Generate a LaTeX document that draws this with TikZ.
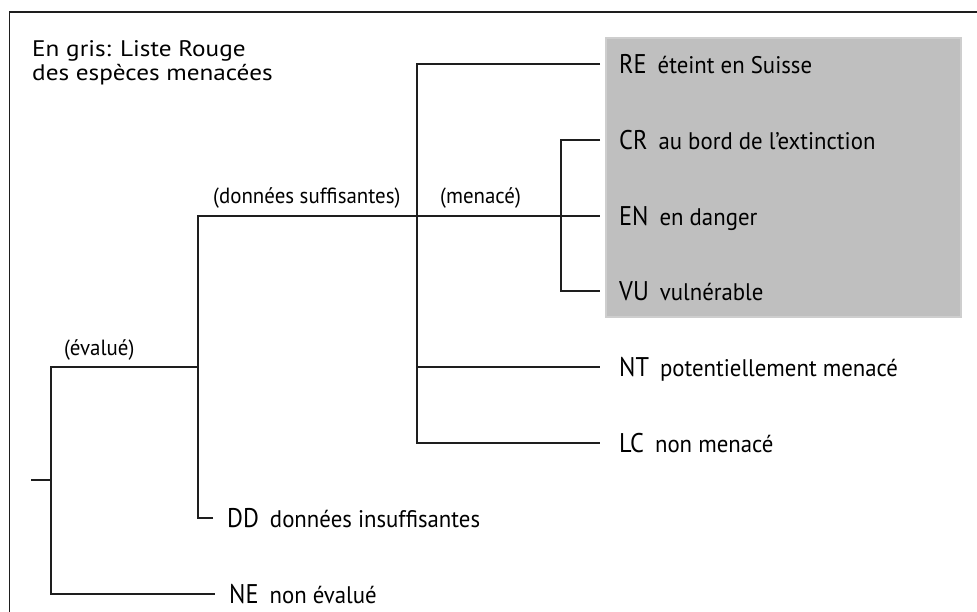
\documentclass[tikz,border=0pt]{standalone}
\usepackage{fontspec}
\setmainfont[FakeStretch=0.95]{PT Sans}
\newfontfamily\codefont[FakeStretch=0.9]{PT Sans}
\newfontfamily\notefont[FakeStretch=1.12]{PT Sans}
\definecolor{boxgray}{RGB}{191,191,191}
\definecolor{boxedge}{RGB}{206,206,206}
\definecolor{linecol}{RGB}{30,30,30}
\newcommand\rlcode[1]{{\codefont\fontsize{27}{27}\selectfont #1}\hspace{11pt}}
\begin{document}
\begin{tikzpicture}[x=1pt,y=-1pt,
  tree/.style={draw=linecol, line width=1.3pt},
  framel/.style={draw=linecol, line width=1.6pt},
  leaf/.style={anchor=west, inner xsep=19pt, inner ysep=0pt, text height=18.5pt, text depth=0pt, font=\fontsize{24}{26}\selectfont},
  leafl/.style={leaf, inner xsep=14pt},
  lbl/.style={anchor=base west, inner sep=0pt, font=\fontsize{22}{23.5}\selectfont},
  notestyle/.style={lbl, align=left, font=\notefont\fontsize{22.5}{24.5}\selectfont},
]
\useasboundingbox (0,0) rectangle (977,612);
% frame
\draw[framel] (977,12) -- (9.5,12) -- (9.5,612);
% grey box
\filldraw[fill=boxgray, draw=boxedge, line width=1.5pt] (606,38) rectangle (961,317);
% note (base anchor = baseline of last line)
\node[notestyle] (note) at (32,81) {En gris: Liste Rouge\\des espèces menacées};
% leaves
\node[leaf] (RE) at (600,64) {\rlcode{RE}éteint en Suisse};
\node[leaf] (CR) at (600,140) {\rlcode{CR}au bord de l’extinction};
\node[leaf] (EN) at (600,216) {\rlcode{EN}en danger};
\node[leaf] (VU) at (600,291) {\rlcode{VU}vulnérable};
\node[leaf] (NT) at (600,367) {\rlcode{NT}potentiellement menacé};
\node[leaf] (LC) at (600,443) {\rlcode{LC}non menacé};
\node[leafl] (DD) at (213,518) {\rlcode{DD}données insuffisantes};
\node[leafl] (NE) at (215,594) {\rlcode{NE}non évalué};
% branch labels
\node[lbl] (lsuff) at (213,204) {(données suffisantes)};
\node[lbl] (lmen) at (440,204) {(menacé)};
\node[lbl] (leval) at (64,355) {(évalué)};
% branch points
\coordinate (r0) at (31,480);
\coordinate (r1) at (51,480);
\coordinate (a1) at (51,367);
\coordinate (a2) at (51,594);
\coordinate (b0) at (198,367);
\coordinate (b1) at (198,518);
\coordinate (b2) at (198,216);
\coordinate (c1) at (417,64);
\coordinate (c2) at (417,443);
\coordinate (c3) at (417,367);
\coordinate (d1) at (561,140);
\coordinate (d2) at (561,291);
% connectors
\draw[tree] (r0) -- (r1);
\draw[tree] (b0) -- (a1) -- (a2) -- (NE.west);
\draw[tree] (DD.west) -- (b1) -- (b2) -- (EN.west);
\draw[tree] (RE.west) -- (c1) -- (c2) -- (LC.west);
\draw[tree] (c3) -- (NT.west);
\draw[tree] (CR.west) -- (d1) -- (d2) -- (VU.west);
\end{tikzpicture}
\end{document}
